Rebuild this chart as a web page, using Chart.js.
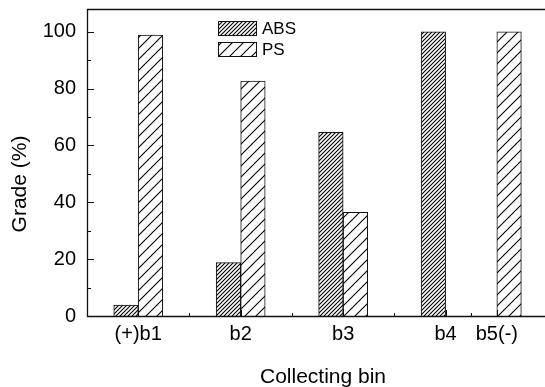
<!DOCTYPE html>
<html>
<head>
<meta charset="utf-8">
<script src="https://cdn.jsdelivr.net/npm/chart.js@4.4.0/dist/chart.umd.min.js"></script>
<style>
  html, body { margin: 0; padding: 0; background: #fff; }
  #wrap { width: 545px; height: 387px; position: relative; }
</style>
</head>
<body>
<div id="wrap"><canvas id="chart"></canvas></div>
<script>
// collecting bins, placed on a numeric x axis like the original plot
const binLabels = ['(+)b1', 'b2', 'b3', 'b4', 'b5(-)'];
const binPositions = [1, 2, 3, 4, 4.5];
const binMinorTicks = [1.5, 2.5, 3.5, 4.25];

// grade (%) per bin
const absGrade = [3.8, 18.8, 64.6, 100, 0];
const psGrade = [98.8, 82.6, 36.5, 0, 100];

const yTickValues = [0, 20, 40, 60, 80, 100];
const yMinorTicks = [10, 30, 50, 70, 90];

const fontFamily = '"Liberation Sans", Arial, sans-serif';
const lineColor = '#111';

const canvas = document.getElementById('chart');
const ctx = canvas.getContext('2d');

// diagonal hatch "/" with given spacing
function makeHatch(spacing) {
    const tile = document.createElement('canvas');
    tile.width = spacing;
    tile.height = spacing;
    const g = tile.getContext('2d');
    g.fillStyle = '#fff';
    g.fillRect(0, 0, spacing, spacing);
    g.strokeStyle = '#000';
    g.lineWidth = 1.1;
    g.beginPath();
    g.moveTo(0, spacing);
    g.lineTo(spacing, 0);
    g.moveTo(-2, 2);
    g.lineTo(2, -2);
    g.moveTo(spacing - 2, spacing + 2);
    g.lineTo(spacing + 2, spacing - 2);
    g.stroke();
    return ctx.createPattern(tile, 'repeat');
}

function toPoints(values) {
    return values.map((v, i) => ({ x: binPositions[i], y: v }));
}

// frame + inward ticks (drawn over the bars like the original)
const frameAndTicks = {
    id: 'frameAndTicks',
    afterDatasetsDraw(chart) {
        const { ctx, chartArea: a, scales: { x, y } } = chart;
        ctx.save();
        ctx.strokeStyle = lineColor;
        ctx.lineWidth = 1;
        ctx.beginPath();
        yTickValues.forEach(v => {
            const py = Math.round(y.getPixelForValue(v)) + 0.5;
            ctx.moveTo(a.left, py);
            ctx.lineTo(a.left + 7, py);
        });
        yMinorTicks.forEach(v => {
            const py = Math.round(y.getPixelForValue(v)) + 0.5;
            ctx.moveTo(a.left, py);
            ctx.lineTo(a.left + 4, py);
        });
        binPositions.forEach(v => {
            const px = Math.round(x.getPixelForValue(v)) + 0.5;
            ctx.moveTo(px, a.bottom);
            ctx.lineTo(px, a.bottom - 6);
        });
        binMinorTicks.forEach(v => {
            const px = Math.round(x.getPixelForValue(v)) + 0.5;
            ctx.moveTo(px, a.bottom);
            ctx.lineTo(px, a.bottom - 3);
        });
        ctx.stroke();

        ctx.lineWidth = 1.3;
        ctx.beginPath();
        ctx.moveTo(a.right, a.top + 0.5);
        ctx.lineTo(a.left + 0.5, a.top + 0.5);
        ctx.lineTo(a.left + 0.5, a.bottom + 0.5);
        ctx.lineTo(a.right, a.bottom + 0.5);
        ctx.stroke();
        ctx.restore();
    }
};

// legend inside the plot + axis titles
const legendAndTitles = {
    id: 'legendAndTitles',
    afterDraw(chart) {
        const { ctx } = chart;
        ctx.save();
        ctx.font = '17px ' + fontFamily;
        ctx.textBaseline = 'middle';
        ctx.fillStyle = '#000';
        const rows = [21, 42];
        chart.data.datasets.forEach((ds, i) => {
            const top = rows[i];
            ctx.fillStyle = ds.backgroundColor;
            ctx.fillRect(218, top, 38, 14);
            ctx.strokeStyle = lineColor;
            ctx.lineWidth = 1;
            ctx.strokeRect(218.5, top + 0.5, 38, 14);
            ctx.fillStyle = '#000';
            ctx.fillText(ds.label, 262, top + 8);
        });

        ctx.font = '21px ' + fontFamily;
        ctx.textAlign = 'center';
        ctx.textBaseline = 'alphabetic';
        ctx.fillText('Collecting bin', 323, 383);

        ctx.font = '21px ' + fontFamily;
        ctx.translate(26, 184);
        ctx.rotate(-Math.PI / 2);
        ctx.fillText('Grade (%)', 0, 0);
        ctx.restore();
    }
};

Chart.defaults.font.family = fontFamily;
Chart.defaults.color = '#000';

const chart = new Chart(canvas, {
    type: 'bar',
    data: {
        datasets: [
            {
                label: 'ABS',
                data: toPoints(absGrade),
                backgroundColor: makeHatch(4),
                borderColor: lineColor,
                borderWidth: 1,
                barThickness: 24.5
            },
            {
                label: 'PS',
                data: toPoints(psGrade),
                backgroundColor: makeHatch(11),
                borderColor: lineColor,
                borderWidth: 1,
                barThickness: 24.5
            }
        ]
    },
    options: {
        animation: false,
        responsive: true,
        maintainAspectRatio: false,
        layout: { padding: { top: 9, left: 0, right: 0, bottom: 0 } },
        plugins: {
            legend: { display: false },
            tooltip: { enabled: false }
        },
        scales: {
            x: {
                type: 'linear',
                min: 0.5,
                max: 4.97,
                offset: false,
                grid: { display: false, drawTicks: false },
                border: { display: false },
                afterBuildTicks: (scale) => {
                    scale.ticks = binPositions.map(v => ({ value: v }));
                },
                afterFit: (scale) => {
                    scale.height = 71;
                    scale.paddingLeft = 0;
                    scale.paddingRight = 0;
                },
                ticks: {
                    autoSkip: false,
                    maxRotation: 0,
                    padding: 6,
                    font: { size: 20 },
                    callback: (value) => {
                        const i = binPositions.indexOf(value);
                        return i >= 0 ? binLabels[i] : '';
                    }
                }
            },
            y: {
                min: 0,
                max: 108,
                grid: { display: false, drawTicks: false },
                border: { display: false },
                afterBuildTicks: (scale) => {
                    scale.ticks = yTickValues.map(v => ({ value: v }));
                },
                afterFit: (scale) => {
                    scale.width = 87;
                    scale.paddingTop = 0;
                    scale.paddingBottom = 0;
                },
                ticks: {
                    padding: 11,
                    font: { size: 20 }
                }
            }
        }
    },
    plugins: [frameAndTicks, legendAndTitles]
});
</script>
</body>
</html>
